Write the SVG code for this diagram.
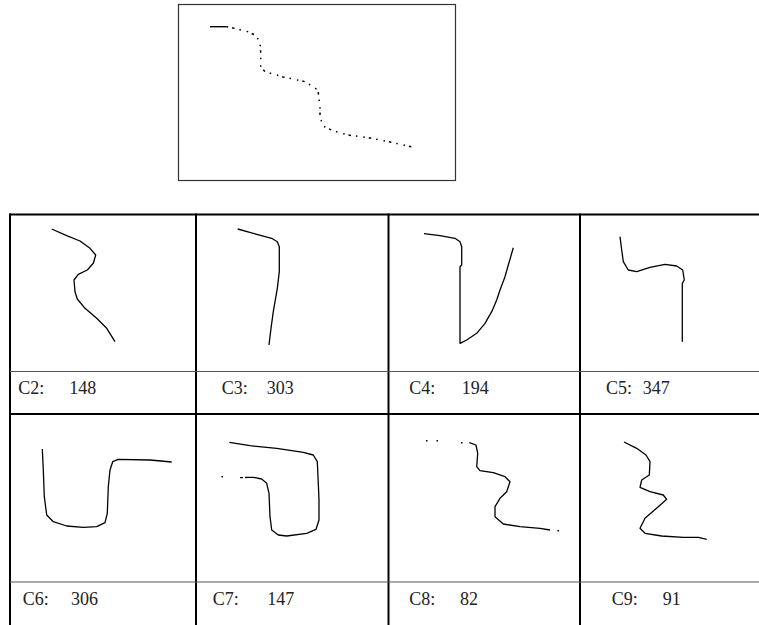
<svg xmlns="http://www.w3.org/2000/svg" width="759" height="625" viewBox="0 0 759 625">
<style>
.curve{fill:none;stroke:#000;stroke-width:1.3;stroke-linejoin:round;stroke-linecap:butt}
.dots{fill:none;stroke:#000;stroke-width:1.5;stroke-dasharray:1.5 4 2.5 5 1.5 6}
.thick{stroke:#000;stroke-width:2;fill:none}
.thin{stroke:#555;stroke-width:1;fill:none}
.lbl{font-family:"Liberation Serif","Times New Roman",serif;font-size:18px;fill:#222}
</style>
<rect width="759" height="625" fill="#fff"/>
<g id="target">
<rect x="178.5" y="4.5" width="277" height="176" fill="none" stroke="#333" stroke-width="1.2"/>
<line x1="210" y1="26.7" x2="226.7" y2="26.7" stroke="#000" stroke-width="1.4"/>
<polyline class="dots" points="226.7,26.7 233,28 240,29.7 248,31.7 255,35 260,41.7 260.7,53 260.7,66.7 265,71.7 276.7,75 283,77 293,79 305,81.7 318,90 320,108 320,116.7 323,126 333,130.7 348,135 368,137.7 390,142 406.7,145.7 416,147.7"/>
</g>
<g id="grid">
<line class="thick" x1="9" y1="214.5" x2="759" y2="214.5"/>
<line class="thick" x1="9" y1="414" x2="759" y2="414"/>
<line class="thick" x1="10" y1="213.5" x2="10" y2="625"/>
<line class="thick" x1="196" y1="213.5" x2="196" y2="625"/>
<line class="thick" x1="388.5" y1="213.5" x2="388.5" y2="625"/>
<line class="thick" x1="580" y1="213.5" x2="580" y2="625"/>
<line class="thin" x1="10" y1="371.5" x2="759" y2="371.5"/>
<line class="thin" x1="10" y1="582" x2="759" y2="582"/>
</g>
<g id="connectors"/>
<g id="C2">
<polyline class="curve" points="51.7,229 66.7,235.7 80,241 90,248.3 95.7,255 93.3,263.3 87.3,270 78.3,274.3 74,280 75,291.7 77.3,299 85,308.3 96.7,318.3 106.7,328.3 115,341.7"/>
<text class="lbl" x="18.3" y="393.5">C2:<tspan x="69.3">148</tspan></text>
</g>
<g id="C3">
<polyline class="curve" points="237.7,229 256.7,234.3 271.7,238.3 277.3,241.7 279.3,246.7 279.3,271.7 277.3,288.3 273.3,311.7 271,328.3 269,345"/>
<text class="lbl" x="221.7" y="393.5">C3:<tspan x="266.7">303</tspan></text>
</g>
<g id="C4">
<polyline class="curve" points="424,233.7 440,235.7 455,238.3 460,241.7 461.7,246.7 461.7,265 460,266.7 460,343.3 466.7,340 476.7,333.3 485,323.3 491.7,311.7 496.7,300 500,290 505,276.7 508.3,265 511.7,253.3 513.3,247.7"/>
<text class="lbl" x="409.3" y="393.5">C4:<tspan x="461.7">194</tspan></text>
</g>
<g id="C5">
<polyline class="curve" points="620,236.7 621.7,250 623.3,261.7 628.3,270 636.7,271.7 650,267.3 665,264.3 676.7,266 682.7,270 684.3,280 682.3,283.3 682.3,341.7"/>
<text class="lbl" x="606" y="393.5">C5:<tspan x="642.7">347</tspan></text>
</g>
<g id="C6">
<polyline class="curve" points="42.3,449 43.3,470 44.3,496.7 46.7,515 53.3,521.7 66.7,526 83.3,527.3 96.7,526.7 105,522.7 107.3,513.3 108.3,486.7 110,470 112.7,461.7 118.3,459.3 150,460 171.7,462"/>
<text class="lbl" x="22.7" y="605">C6:<tspan x="71">306</tspan></text>
</g>
<g id="C7">
<polyline class="curve" points="229.3,442.3 250,445.7 276.7,448.3 303.3,452.3 313.3,455 317.3,461.7 318.3,483.3 319,500 319,520 316,529.3 306.7,533.3 286.7,536 278.3,535 271.7,530 270,516.7 269,493.3 266.7,483.3 261.7,479 253.3,477.3 248,477.4"/>
<line x1="248" y1="477.4" x2="238" y2="477.7" stroke="#000" stroke-width="1.3" stroke-dasharray="3 2"/>
<rect x="221.5" y="476" width="1.5" height="1.5" fill="#000"/>
<text class="lbl" x="212.7" y="605">C7:<tspan x="267.3">147</tspan></text>
</g>
<g id="C8">
<rect x="426" y="440" width="1.5" height="1.5" fill="#000"/>
<rect x="436.5" y="440" width="1.5" height="1.5" fill="#000"/>
<rect x="461" y="442" width="1.5" height="1.5" fill="#000"/>
<polyline class="curve" points="469.3,442.7 476,445 477.7,453.3 476.7,466.7 480,470.7 493.3,472.7 505,476.7 510,481.7 506.7,491.7 500,498.3 495,506.7 495,516.7 503.3,524 520,526.7 540,528.3 550,530"/>
<rect x="557.5" y="530" width="1.5" height="1.5" fill="#000"/>
<text class="lbl" x="409.3" y="605">C8:<tspan x="460">82</tspan></text>
</g>
<g id="C9">
<polyline class="curve" points="624,442 636.7,448.3 646,455 650,461.7 649.3,475 641.7,480 640,487.3 650,491.7 663.3,495 666.7,499.3 658.3,506.7 645,518.3 640,528.3 645,533.3 661.7,536 683.3,537.3 698.3,537.3 706.7,539.3"/>
<text class="lbl" x="611.7" y="605">C9:<tspan x="662.7">91</tspan></text>
</g>
</svg>
